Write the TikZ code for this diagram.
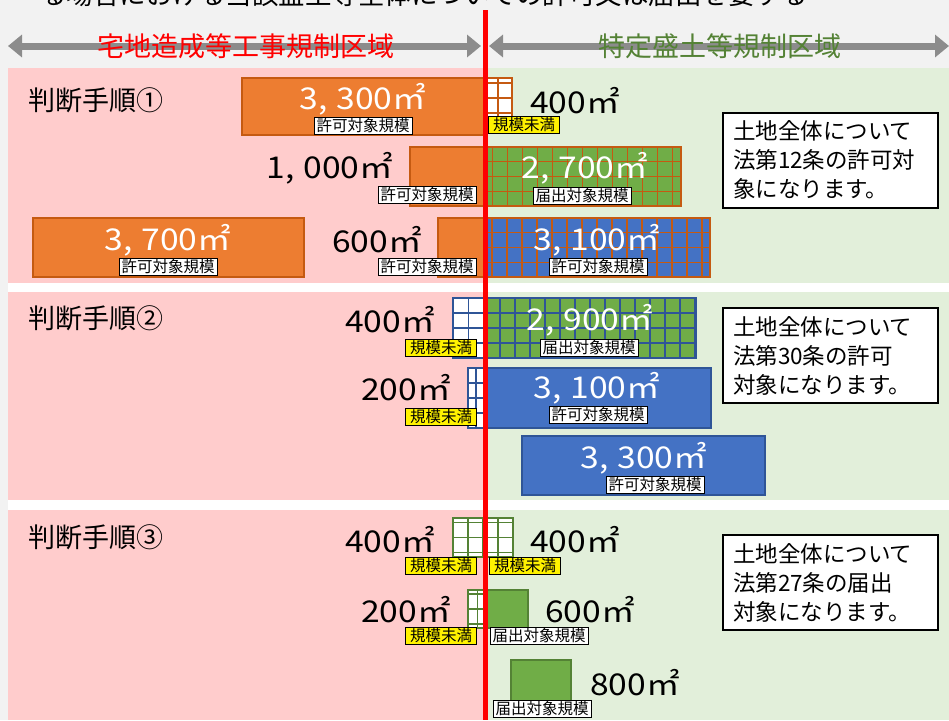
\documentclass[tikz,border=0pt]{standalone}
\usepackage{fontspec}
\setmainfont{Noto Sans CJK JP}
\newfontfamily\numfont[FakeStretch=1.12]{Noto Sans CJK JP}
\usetikzlibrary{arrows.meta,positioning}

\definecolor{bggray}{HTML}{F2F2F2}
\definecolor{zonepink}{HTML}{FFCCCC}
\definecolor{zonegreen}{HTML}{E2EFDA}
\definecolor{boxorange}{HTML}{ED7D31}
\definecolor{lineorange}{HTML}{C55A11}
\definecolor{boxblue}{HTML}{4472C4}
\definecolor{lineblue}{HTML}{2F5597}
\definecolor{boxgreen}{HTML}{70AD47}
\definecolor{linegreen}{HTML}{548235}
\definecolor{arrowgray}{HTML}{8C8C8C}
\definecolor{titlegreen}{HTML}{548235}

\tikzset{
	box/.style={draw, line width=1.5pt, inner sep=0pt},
	orangebox/.style={box, fill=boxorange, draw=lineorange},
	bluebox/.style={box, fill=boxblue, draw=lineblue},
	greenbox/.style={box, fill=boxgreen, draw=linegreen},
	orangegrid/.style={path picture={\draw[lineorange, line width=1.5pt, step=15pt] (path picture bounding box.south west) grid (path picture bounding box.north east);}},
	bluegrid/.style={path picture={\draw[lineblue, line width=1.5pt, step=15pt] (path picture bounding box.south west) grid (path picture bounding box.north east);}},
	greengrid/.style={path picture={\draw[linegreen, line width=1.5pt, step=15pt] (path picture bounding box.south west) grid (path picture bounding box.north east);}},
	bnum/.style={inner sep=0pt, font=\numfont\fontsize{30}{30}\selectfont},
	wnum/.style={bnum, text=white},
	kibo/.style={draw=black, fill=white, line width=1pt, inner xsep=2.5pt, inner ysep=1.5pt, font=\fontsize{15.5}{15.5}\selectfont},
	miman/.style={kibo, fill=yellow, inner xsep=4.5pt},
	note/.style={draw=black, fill=white, line width=2pt, align=left, text width=195pt, minimum height=95pt, inner xsep=10pt, font=\fontsize{22.5}{29}\selectfont},
	tejun/.style={anchor=west, inner sep=0pt, font=\fontsize{27}{27}\selectfont},
	zonetitle/.style={inner sep=0pt, font=\fontsize{27}{27}\selectfont},
	zonearrow/.style={arrowgray, line width=7pt, {Triangle[width=22pt,length=14pt]}-{Triangle[width=22pt,length=14pt]}},
}

\begin{document}
\begin{tikzpicture}[x=1pt,y=-1pt]
	\useasboundingbox (0,0) rectangle (949,720);
	\clip (0,0) rectangle (949,720);
	
	% Draw background
	\fill[bggray] (0,0) rectangle (949,720);
	\fill[white] (8,68) rectangle (949,720);
	\fill[zonepink] (8,68) rectangle (485,283);
	\fill[zonegreen] (485,68) rectangle (949,283);
	\fill[zonepink] (8,292) rectangle (485,500);
	\fill[zonegreen] (485,292) rectangle (949,500);
	\fill[zonepink] (8,510) rectangle (485,720);
	\fill[zonegreen] (485,510) rectangle (949,720);
	
	% Draw header
	\node[anchor=base west, inner sep=0pt, font=\fontsize{26.5}{26.5}\selectfont] (lead) at (40,5) {る場合における当該盛土等全体についての許可又は届出を要する};
	\coordinate (takuL) at (8,46);
	\coordinate (takuR) at (481,46);
	\coordinate (tokuL) at (489,46);
	\coordinate (tokuR) at (949,46);
	\draw[zonearrow] (takuL) -- (takuR);
	\draw[zonearrow] (tokuL) -- (tokuR);
	\node[zonetitle, text=red] (taku) at (246,46) {宅地造成等工事規制区域};
	\node[zonetitle, text=titlegreen] (toku) at (720,46) {特定盛土等規制区域};
	
	% Draw step 1
	\node[tejun] (tejun1) at (28,100) {判断手順①};
	\node[orangebox, minimum width=242pt, minimum height=57pt] (o1) at (363,106.5) {};
	\node[box, fill=white, draw=lineorange, orangegrid, minimum width=28pt, minimum height=40pt] (g1) at (498,98) {};
	\node[orangebox, minimum width=74pt, minimum height=59pt] (o2) at (447,176.5) {};
	\node[greenbox, draw=lineorange, orangegrid, minimum width=197pt, minimum height=59pt] (g2) at (582.5,176.5) {};
	\node[orangebox, minimum width=271pt, minimum height=59pt] (o3) at (168.5,247.5) {};
	\node[orangebox, minimum width=46pt, minimum height=59pt] (o4) at (461,247.5) {};
	\node[bluebox, draw=lineorange, orangegrid, minimum width=226pt, minimum height=59pt] (g3) at (597,247.5) {};
	
	\node[wnum] (a3300) at (363,99) {3,\hspace{0.3em}300㎡};
	\node[kibo] (k1) at (363,126) {許可対象規模};
	\node[bnum] (a400) at (575,101) {400㎡};
	\node[miman] (m1) at (524,125) {規模未満};
	\node[bnum] (a1000) at (330,168) {1,\hspace{0.3em}000㎡};
	\node[wnum] (a2700) at (585,168) {2,\hspace{0.3em}700㎡};
	\node[kibo] (k2) at (427,195) {許可対象規模};
	\node[kibo] (k3) at (582,196) {届出対象規模};
	\node[wnum] (a3700) at (168,240) {3,\hspace{0.3em}700㎡};
	\node[kibo] (k4) at (168,267) {許可対象規模};
	\node[bnum] (a600) at (377,240) {600㎡};
	\node[kibo] (k5) at (427,267) {許可対象規模};
	\node[wnum] (a3100) at (597,240) {3,\hspace{0.3em}100㎡};
	\node[kibo] (k6) at (598,267) {許可対象規模};
	\node[note] (note1) at (830.5,160) {土地全体について\\法第12条の許可対\\象になります。};
	
	% Draw step 2
	\node[tejun] (tejun2) at (28,318) {判断手順②};
	\node[box, fill=white, draw=lineblue, bluegrid, minimum width=31pt, minimum height=60pt] (g4) at (468.5,328) {};
	\node[greenbox, draw=lineblue, bluegrid, minimum width=212pt, minimum height=60pt] (g5) at (590,328) {};
	\node[box, fill=white, draw=lineblue, bluegrid, minimum width=16pt, minimum height=60pt] (g6) at (476,398) {};
	\node[bluebox, minimum width=227pt, minimum height=60pt] (b1) at (597.5,398) {};
	\node[bluebox, minimum width=243pt, minimum height=59pt] (b2) at (643.5,465.5) {};
	
	\node[bnum] (b400) at (390,320) {400㎡};
	\node[miman] (m2) at (441,348) {規模未満};
	\node[wnum] (b2900) at (590,320) {2,\hspace{0.3em}900㎡};
	\node[kibo] (k7) at (589,348) {届出対象規模};
	\node[bnum] (b200) at (406,388) {200㎡};
	\node[miman] (m3) at (441,417) {規模未満};
	\node[wnum] (b3100) at (597,388) {3,\hspace{0.3em}100㎡};
	\node[kibo] (k8) at (598,415) {許可対象規模};
	\node[wnum] (b3300) at (644,458) {3,\hspace{0.3em}300㎡};
	\node[kibo] (k9) at (655,485) {許可対象規模};
	\node[note] (note2) at (830.5,355.5) {土地全体について\\法第30条の許可\\対象になります。};
	
	% Draw step 3
	\node[tejun] (tejun3) at (28,537) {判断手順③};
	\node[box, fill=white, draw=linegreen, greengrid, minimum width=60pt, minimum height=39pt] (g7) at (483,537.5) {};
	\node[box, fill=white, draw=linegreen, greengrid, minimum width=19pt, minimum height=38pt] (g8) at (477.5,609) {};
	\node[greenbox, minimum width=41pt, minimum height=38pt] (gr1) at (507.5,609) {};
	\node[greenbox, minimum width=60pt, minimum height=52pt] (gr2) at (541,686) {};
	
	\node[bnum] (c400) at (390,540) {400㎡};
	\node[miman] (m4) at (441,566) {規模未満};
	\node[bnum] (c400r) at (575,540) {400㎡};
	\node[miman] (m5) at (525,566) {規模未満};
	\node[bnum] (c200) at (406,610) {200㎡};
	\node[miman] (m6) at (441,636) {規模未満};
	\node[bnum] (c600) at (590,610) {600㎡};
	\node[kibo] (k10) at (539,636) {届出対象規模};
	\node[bnum] (c800) at (635,683) {800㎡};
	\node[kibo] (k11) at (542,709) {届出対象規模};
	\node[note] (note3) at (830.5,582.5) {土地全体について\\法第27条の届出\\対象になります。};
	
	% Draw boundary line
	\coordinate (lineT) at (485,10);
	\coordinate (lineB) at (485,720);
	\draw[red, line width=5pt] (lineT) -- (lineB);
	
\end{tikzpicture}
\end{document}
